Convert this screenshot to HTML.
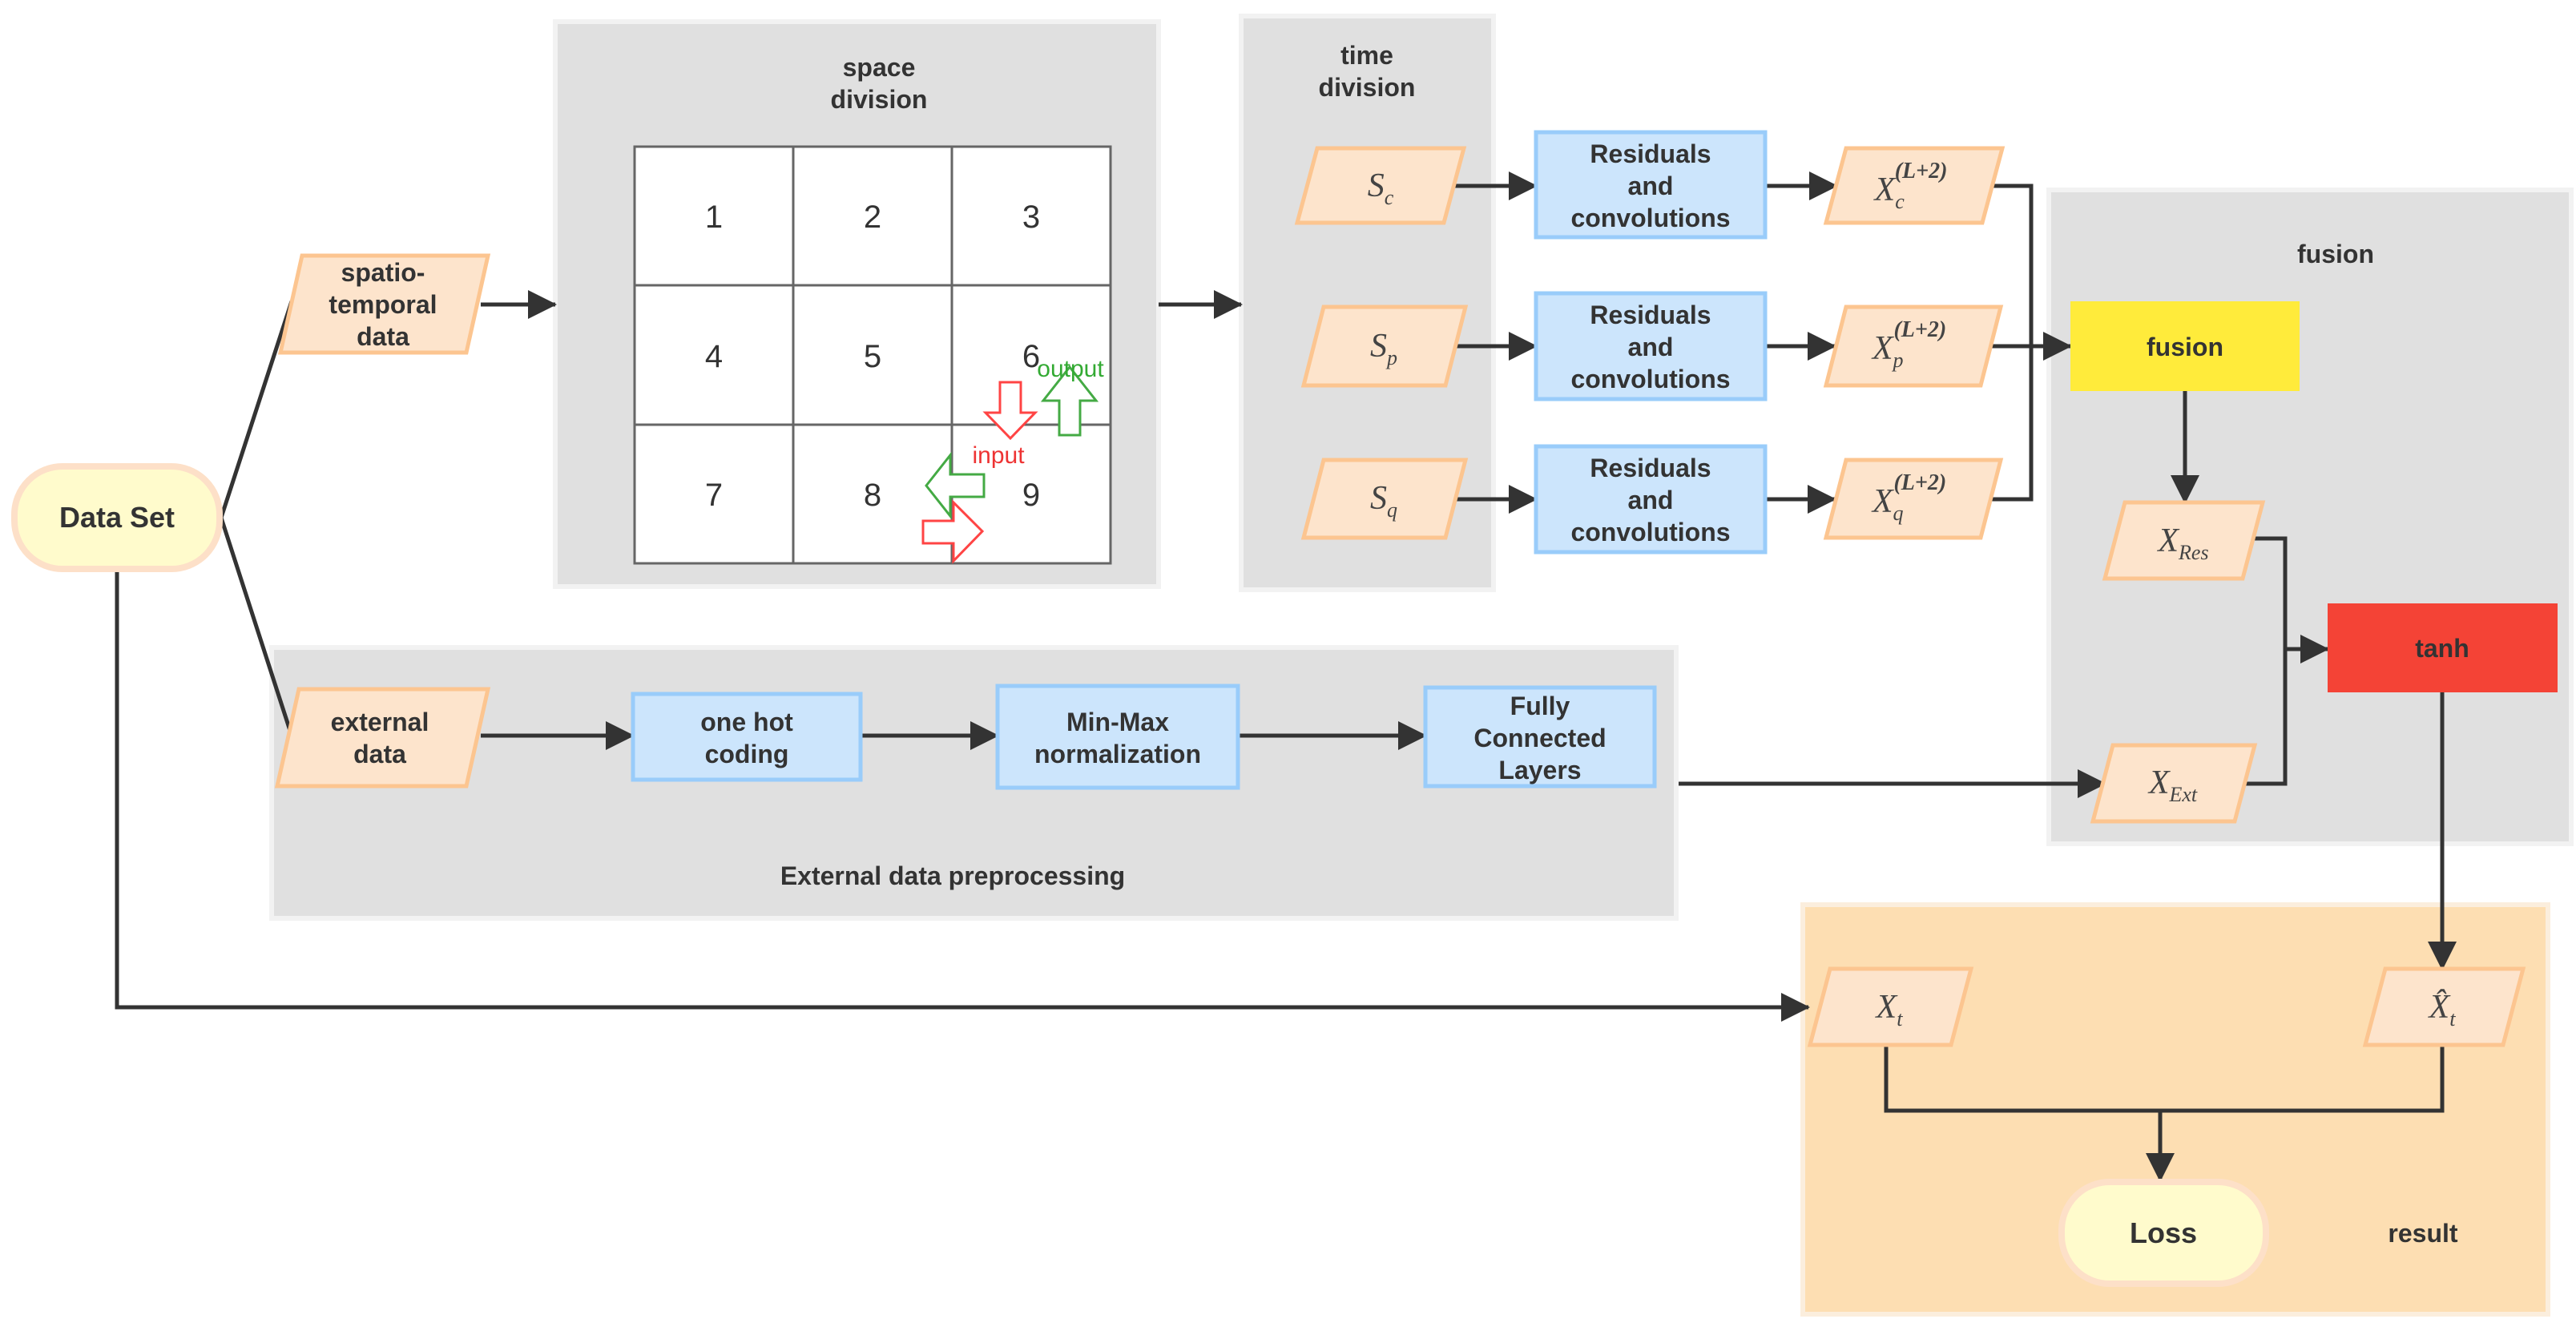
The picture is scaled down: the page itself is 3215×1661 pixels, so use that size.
<!DOCTYPE html>
<html><head><meta charset="utf-8"><style>
html,body{margin:0;padding:0;background:#fff;}
svg{display:block;}
.t{font-family:"Liberation Sans",sans-serif;font-weight:bold;font-size:32px;fill:#333;text-anchor:middle;}
.n{font-family:"Liberation Sans",sans-serif;font-size:40px;fill:#333;text-anchor:middle;}
.m{font-family:"Liberation Serif",serif;font-style:italic;font-size:42px;fill:#444;text-anchor:middle;}
.pan{fill:#e0e0e0;stroke:#f2f2f2;stroke-width:6;}
.par{fill:#fde4cc;stroke:#fcc590;stroke-width:5;}
.blu{fill:#cce5fc;stroke:#99ccfa;stroke-width:5;}
.ln{stroke:#333;stroke-width:5;fill:none;}
</style></head><body>
<svg width="3215" height="1661" viewBox="0 0 3215 1661" xmlns="http://www.w3.org/2000/svg">
<defs>
<marker id="a" markerWidth="10" markerHeight="10" refX="8" refY="5" orient="auto" markerUnits="userSpaceOnUse" viewBox="0 0 10 10" style="overflow:visible">
<path d="M0,0 L10,5 L0,10 z" fill="#333" transform="scale(1)"/>
</marker>
<marker id="A" markerWidth="36" markerHeight="36" refX="34" refY="18" orient="auto" markerUnits="userSpaceOnUse">
<path d="M0,0 L36,18 L0,36 z" fill="#333"/>
</marker>
</defs>

<!-- panels -->
<rect class="pan" x="693" y="27" width="753" height="705"/>
<rect class="pan" x="1549" y="20" width="315" height="716"/>
<rect class="pan" x="2557" y="237" width="652" height="816"/>
<rect class="pan" x="339" y="808" width="1753" height="338"/>
<rect x="2250" y="1129" width="930" height="511" fill="#fddeb2" stroke="#fbeedd" stroke-width="6"/>

<text class="t" x="1097" y="95">space</text>
<text class="t" x="1097" y="135">division</text>
<text class="t" x="1706" y="80">time</text>
<text class="t" x="1706" y="120">division</text>
<text class="t" x="2915" y="328">fusion</text>
<text class="t" x="1189" y="1104">External data preprocessing</text>
<text class="t" x="3024" y="1550">result</text>

<!-- grid -->
<rect x="792" y="183" width="594" height="520" fill="#fff" stroke="#666" stroke-width="3"/>
<path d="M990,183V703M1188,183V703M792,356H1386M792,530H1386" stroke="#666" stroke-width="3"/>
<text class="n" x="891" y="284">1</text><text class="n" x="1089" y="284">2</text><text class="n" x="1287" y="284">3</text>
<text class="n" x="891" y="458">4</text><text class="n" x="1089" y="458">5</text><text class="n" x="1287" y="458">6</text>
<text class="n" x="891" y="631">7</text><text class="n" x="1089" y="631">8</text><text class="n" x="1287" y="631">9</text>
<polygon points="1248,477 1274,477 1274,515 1292,515 1261,547 1230,515 1248,515" fill="#fff" stroke="#f44" stroke-width="3"/>
<polygon points="1335,458 1368,500 1348,500 1348,543 1322,543 1322,500 1302,500" fill="#fff" stroke="#4a4" stroke-width="3"/>
<polygon points="1156,606 1186,568 1186,592 1228,592 1228,620 1186,620 1186,644" fill="#fff" stroke="#4a4" stroke-width="3"/>
<polygon points="1152,650 1190,650 1190,627 1226,663 1190,700 1190,678 1152,678" fill="#fff" stroke="#f44" stroke-width="3"/>
<text x="1336" y="470" font-family="Liberation Sans,sans-serif" font-size="30" fill="#3a3" text-anchor="middle">output</text>
<text x="1246" y="578" font-family="Liberation Sans,sans-serif" font-size="30" fill="#e33" text-anchor="middle">input</text>

<!-- connectors -->
<path class="ln" d="M276,646L364,376"/>
<path class="ln" d="M276,646L364,918"/>
<path class="ln" d="M146,712V1257H2257" marker-end="url(#A)"/>
<path class="ln" d="M600,380H693" marker-end="url(#A)"/>
<path class="ln" d="M1446,380H1549" marker-end="url(#A)"/>
<path class="ln" d="M1812,232H1917" marker-end="url(#A)"/>
<path class="ln" d="M1814,432H1917" marker-end="url(#A)"/>
<path class="ln" d="M1814,623H1917" marker-end="url(#A)"/>
<path class="ln" d="M2203,232H2292" marker-end="url(#A)"/>
<path class="ln" d="M2203,432H2290" marker-end="url(#A)"/>
<path class="ln" d="M2203,623H2290" marker-end="url(#A)"/>
<path class="ln" d="M2487,232H2535V623H2480"/>
<path class="ln" d="M2482,432H2584" marker-end="url(#A)"/>
<path class="ln" d="M2727,488V627" marker-end="url(#A)"/>
<path class="ln" d="M2810,672H2852V978H2800"/>
<path class="ln" d="M2852,810H2905" marker-end="url(#A)"/>
<path class="ln" d="M2095,978H2627" marker-end="url(#A)"/>
<path class="ln" d="M3048,864V1209" marker-end="url(#A)"/>
<path class="ln" d="M2354,1304V1386H3048V1304"/>
<path class="ln" d="M2696,1386V1473" marker-end="url(#A)"/>
<path class="ln" d="M600,918H790" marker-end="url(#A)"/>
<path class="ln" d="M1074,918H1245" marker-end="url(#A)"/>
<path class="ln" d="M1545,918H1779" marker-end="url(#A)"/>

<!-- Data Set -->
<rect x="18" y="582" width="256" height="128" rx="60" fill="#fffbcc" stroke="#fde0c8" stroke-width="8"/>
<text class="t" x="146" y="658" style="font-size:36px">Data Set</text>
<rect x="2573" y="1475" width="255" height="127" rx="60" fill="#fffbcc" stroke="#fde0c8" stroke-width="8"/>
<text class="t" x="2700" y="1551" style="font-size:36px">Loss</text>

<!-- parallelograms -->
<polygon class="par" points="377,319 609,319 582,440 350,440"/>
<text class="t" x="478" y="351">spatio-</text><text class="t" x="478" y="391">temporal</text><text class="t" x="478" y="431">data</text>
<polygon class="par" points="373,860 609,860 582,981 346,981"/>
<text class="t" x="474" y="912">external</text><text class="t" x="474" y="952">data</text>

<polygon class="par" points="1644,185 1827,185 1802,278 1619,278"/>
<polygon class="par" points="1652,383 1829,383 1804,481 1627,481"/>
<polygon class="par" points="1652,574 1829,574 1804,671 1627,671"/>
<text class="m" x="1723" y="245">S<tspan font-size="26" dy="10">c</tspan></text>
<text class="m" x="1727" y="445">S<tspan font-size="26" dy="10">p</tspan></text>
<text class="m" x="1727" y="635">S<tspan font-size="26" dy="10">q</tspan></text>

<polygon class="par" points="2304,185 2499,185 2474,278 2279,278"/>
<polygon class="par" points="2304,383 2497,383 2472,481 2279,481"/>
<polygon class="par" points="2304,574 2497,574 2472,671 2279,671"/>
<text class="m" x="2385" y="250">X<tspan font-size="26" dy="10">c</tspan><tspan font-size="28" dx="-12" dy="-38" font-weight="bold">(L+2)</tspan></text>
<text class="m" x="2383" y="448">X<tspan font-size="26" dy="10">p</tspan><tspan font-size="28" dx="-12" dy="-38" font-weight="bold">(L+2)</tspan></text>
<text class="m" x="2383" y="639">X<tspan font-size="26" dy="10">q</tspan><tspan font-size="28" dx="-12" dy="-38" font-weight="bold">(L+2)</tspan></text>

<polygon class="par" points="2652,627 2824,627 2799,722 2627,722"/>
<text class="m" x="2725" y="688">X<tspan font-size="26" dy="10">Res</tspan></text>
<polygon class="par" points="2637,930 2814,930 2789,1025 2612,1025"/>
<text class="m" x="2712" y="990">X<tspan font-size="26" dy="10">Ext</tspan></text>
<polygon class="par" points="2284,1209 2460,1209 2435,1304 2259,1304"/>
<text class="m" x="2358" y="1270">X<tspan font-size="26" dy="10">t</tspan></text>
<polygon class="par" points="2977,1209 3149,1209 3124,1304 2952,1304"/>
<text class="m" x="3048" y="1270">X̂<tspan font-size="26" dy="10">t</tspan></text>

<!-- blue boxes -->
<rect class="blu" x="1917" y="165" width="286" height="131"/>
<rect class="blu" x="1917" y="366" width="286" height="132"/>
<rect class="blu" x="1917" y="557" width="286" height="132"/>
<text class="t" x="2060" y="203">Residuals</text><text class="t" x="2060" y="243">and</text><text class="t" x="2060" y="283">convolutions</text>
<text class="t" x="2060" y="404">Residuals</text><text class="t" x="2060" y="444">and</text><text class="t" x="2060" y="484">convolutions</text>
<text class="t" x="2060" y="595">Residuals</text><text class="t" x="2060" y="635">and</text><text class="t" x="2060" y="675">convolutions</text>
<rect class="blu" x="790" y="866" width="284" height="107"/>
<text class="t" x="932" y="912">one hot</text><text class="t" x="932" y="952">coding</text>
<rect class="blu" x="1245" y="856" width="300" height="127"/>
<text class="t" x="1395" y="912">Min-Max</text><text class="t" x="1395" y="952">normalization</text>
<rect class="blu" x="1779" y="858" width="286" height="123"/>
<text class="t" x="1922" y="892">Fully</text><text class="t" x="1922" y="932">Connected</text><text class="t" x="1922" y="972">Layers</text>

<rect x="2584" y="376" width="286" height="112" fill="#ffeb3b"/>
<text class="t" x="2727" y="444">fusion</text>
<rect x="2905" y="753" width="287" height="111" fill="#f44336"/>
<text class="t" x="3048" y="820">tanh</text>
</svg>
</body></html>
